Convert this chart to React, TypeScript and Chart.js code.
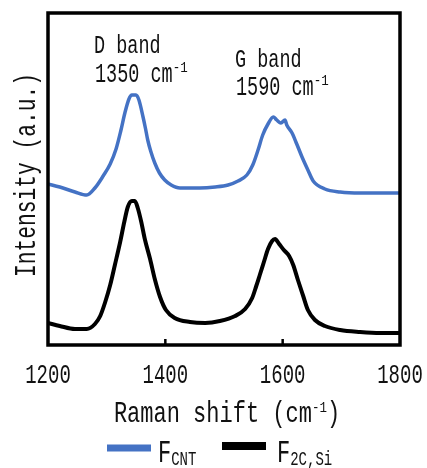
import { useEffect, useRef } from "react";
import { Chart, registerables } from "chart.js";

Chart.register(...registerables);

// ---- data ----
const xTickValues = [1200, 1400, 1600, 1800];
const xTickLabels = ["1200", "1400", "1600", "1800"];

const cntShift = [1200, 1220, 1246, 1266, 1280, 1294, 1306, 1316, 1324, 1331, 1338, 1343, 1350, 1355, 1362, 1366, 1370, 1375, 1382, 1390, 1399, 1410, 1425, 1459, 1485, 1507, 1524, 1539, 1549, 1558, 1566, 1575, 1584, 1590, 1597, 1604, 1607, 1616, 1624, 1633, 1643, 1652, 1672, 1698, 1732, 1766, 1800];
const cntIntensity = [161, 158, 153, 150, 157, 169, 181, 196, 214, 232, 246, 250, 250, 245, 228, 217, 205, 194, 182, 172, 165, 160, 157, 157, 158, 160, 164, 170, 180, 195, 210, 221, 228, 225, 222, 225, 220, 212, 201, 188, 175, 164, 156, 153, 152, 152, 152];

const siShift = [1200, 1220, 1246, 1266, 1280, 1289, 1297, 1306, 1314, 1323, 1330, 1336, 1343, 1348, 1353, 1359, 1365, 1374, 1382, 1391, 1401, 1416, 1442, 1468, 1493, 1519, 1536, 1548, 1555, 1561, 1568, 1575, 1582, 1587, 1594, 1602, 1611, 1618, 1626, 1635, 1643, 1655, 1672, 1698, 1732, 1766, 1800];
const siIntensity = [22, 19, 16, 16, 21, 29, 42, 60, 80, 103, 123, 138, 144, 144, 137, 123, 106, 86, 66, 48, 35, 27, 23, 22, 24, 29, 36, 47, 59, 70, 83, 96, 104, 106, 101, 95, 89, 80, 65, 49, 35, 25, 19, 15, 13, 12, 12];

const seriesNames = ["CNT", "2C,Si"];
const seriesColors = ["#4472C4", "#000000"];

const FONT = "'Liberation Mono', 'DejaVu Sans Mono', monospace";

type Run = { t: string; size: number; sy: number; dy?: number };

function runsWidth(ctx: CanvasRenderingContext2D, runs: Run[]) {
  let w = 0;
  for (const r of runs) {
    ctx.font = `${r.size}px ${FONT}`;
    w += ctx.measureText(r.t).width;
  }
  return w;
}

function drawRuns(ctx: CanvasRenderingContext2D, x: number, y: number, runs: Run[], align: "left" | "center") {
  const w = runsWidth(ctx, runs);
  let cx = align === "center" ? x - w / 2 : x;
  for (const r of runs) {
    ctx.save();
    ctx.font = `${r.size}px ${FONT}`;
    ctx.textAlign = "left";
    ctx.textBaseline = "alphabetic";
    ctx.translate(cx, y + (r.dy || 0));
    ctx.scale(1, r.sy);
    ctx.fillText(r.t, 0, 0);
    const adv = ctx.measureText(r.t).width;
    ctx.restore();
    cx += adv;
  }
}

const decorPlugin = {
  id: "decor",
  afterDraw(chart: any) {
    const ctx: CanvasRenderingContext2D = chart.ctx;
    const { left, right, top, bottom } = chart.chartArea;
    const xs = chart.scales.x;
    ctx.save();
    // frame
    ctx.strokeStyle = "#000";
    ctx.lineWidth = 3.5;
    ctx.strokeRect(left, top, right - left, bottom - top);
    // inward ticks
    ctx.lineWidth = 2.5;
    for (const v of xTickValues) {
      const px = xs.getPixelForValue(v);
      if (px <= left + 2 || px >= right - 2) continue;
      ctx.beginPath();
      ctx.moveTo(px, bottom);
      ctx.lineTo(px, bottom - 6);
      ctx.stroke();
    }
    ctx.fillStyle = "#111";
    // tick labels
    xTickValues.forEach((v, i) => {
      const px = xs.getPixelForValue(v);
      drawRuns(ctx, px, 383, [{ t: xTickLabels[i], size: 19, sy: 1.42 }], "center");
    });
    // x title
    drawRuns(ctx, (left + right) / 2 + 3, 422, [
      { t: "Raman shift (cm", size: 22, sy: 1.38 },
      { t: "-1", size: 12.5, sy: 1.1, dy: -10 },
      { t: ")", size: 22, sy: 1.38 },
    ], "center");
    // y title
    ctx.save();
    ctx.translate(35, 175);
    ctx.rotate(-Math.PI / 2);
    drawRuns(ctx, 0, 0, [{ t: "Intensity (a.u.)", size: 21.25, sy: 1.42 }], "center");
    ctx.restore();
    // annotations
    drawRuns(ctx, 94, 53, [{ t: "D band", size: 18.5, sy: 1.42 }], "left");
    drawRuns(ctx, 95, 82, [
      { t: "1350 cm", size: 18.5, sy: 1.45 },
      { t: "-1", size: 12.5, sy: 1.1, dy: -10 },
    ], "left");
    drawRuns(ctx, 235, 67, [{ t: "G band", size: 18.5, sy: 1.42 }], "left");
    drawRuns(ctx, 236, 95, [
      { t: "1590 cm", size: 18.5, sy: 1.45 },
      { t: "-1", size: 12.5, sy: 1.1, dy: -10 },
    ], "left");
    // legend
    const legendItems = [
      { x0: 107, x1: 151, y: 448, lw: 7, tx: 158 },
      { x0: 222, x1: 266, y: 446, lw: 8, tx: 277 },
    ];
    legendItems.forEach((it, i) => {
      ctx.strokeStyle = seriesColors[i];
      ctx.lineWidth = it.lw;
      ctx.lineCap = "butt";
      ctx.beginPath();
      ctx.moveTo(it.x0, it.y);
      ctx.lineTo(it.x1, it.y);
      ctx.stroke();
      drawRuns(ctx, it.tx, 462, [
        { t: "F", size: 22, sy: 1.45 },
        { t: seriesNames[i], size: 14, sy: 1.5, dy: 3 },
      ], "left");
    });
    ctx.restore();
  },
};

export default function App() {
  const ref = useRef<HTMLCanvasElement | null>(null);
  useEffect(() => {
    if (!ref.current) return;
    const chart = new Chart(ref.current, {
      type: "line",
      data: {
        datasets: [
          {
            label: "F_CNT",
            data: cntShift.map((x, i) => ({ x, y: cntIntensity[i] })),
            borderColor: seriesColors[0],
            borderWidth: 3.5,
            pointRadius: 0,
            cubicInterpolationMode: "monotone",
            fill: false,
          },
          {
            label: "F_2C,Si",
            data: siShift.map((x, i) => ({ x, y: siIntensity[i] })),
            borderColor: seriesColors[1],
            borderWidth: 4,
            pointRadius: 0,
            cubicInterpolationMode: "monotone",
            fill: false,
          },
        ],
      },
      options: {
        animation: false,
        responsive: true,
        maintainAspectRatio: false,
        layout: { padding: { left: 48, top: 13, right: 27, bottom: 123 } },
        plugins: { legend: { display: false }, tooltip: { enabled: false } },
        scales: {
          x: { type: "linear", min: 1200, max: 1800, display: false },
          y: { min: 0, max: 332, display: false },
        },
      },
      plugins: [decorPlugin],
    } as any);
    return () => chart.destroy();
  }, []);
  return (
    <div style={{ position: "absolute", left: 0, top: 0, width: 427, height: 468, background: "#fff" }}>
      <canvas ref={ref} />
    </div>
  );
}
